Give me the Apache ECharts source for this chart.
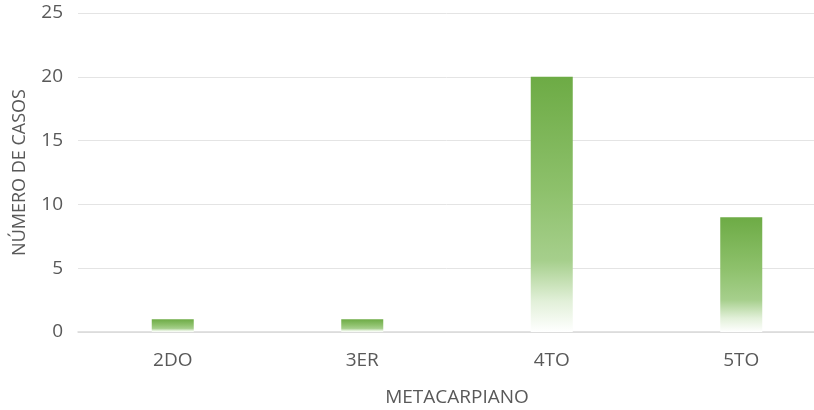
<!DOCTYPE html>
<html>
<head>
<meta charset="utf-8">
<script src="https://cdn.jsdelivr.net/npm/echarts@6/dist/echarts.min.js"></script>
<style>
  html, body { margin: 0; padding: 0; background: #ffffff; }
  #chart { width: 814px; height: 410px; }
</style>
</head>
<body>
<div id="chart"></div>
<script>
// Fracturas por metacarpiano
const categories = ['2DO', '3ER', '4TO', '5TO'];
const casos = [1, 1, 20, 9];
const yTicks = { min: 0, max: 25, interval: 5 };

const chart = echarts.init(document.getElementById('chart'), null, { renderer: 'canvas' });

const barFill = new echarts.graphic.LinearGradient(0, 0, 0, 1, [
  { offset: 0, color: '#6dab45' },
  { offset: 0.45, color: '#8ec16c' },
  { offset: 0.72, color: '#a6cf8c' },
  { offset: 0.88, color: '#e2f0d9' },
  { offset: 1, color: '#ffffff' }
]);

const labelFont = { fontFamily: 'Open Sans', fontSize: 19, color: '#595959' };

chart.setOption({
  backgroundColor: '#ffffff',
  animation: false,
  // the plot runs a little past the right edge of the canvas
  grid: { left: 78, top: 13, width: 758, height: 319, outerBoundsMode: 'none', containLabel: false },
  xAxis: {
    type: 'category',
    data: categories,
    name: 'METACARPIANO',
    nameLocation: 'middle',
    nameGap: 56,
    nameTextStyle: labelFont,
    axisLine: { lineStyle: { color: '#d9d9d9', width: 1.5 } },
    axisTick: { show: false },
    axisLabel: Object.assign({ margin: 19 }, labelFont)
  },
  yAxis: {
    type: 'value',
    min: yTicks.min,
    max: yTicks.max,
    interval: yTicks.interval,
    name: 'NÚMERO DE CASOS',
    nameLocation: 'middle',
    nameGap: 49,
    nameRotate: 90,
    nameTextStyle: Object.assign({}, labelFont, { fontSize: 18 }),
    axisLine: { show: false },
    axisTick: { show: false },
    axisLabel: Object.assign({ margin: 15 }, labelFont),
    splitLine: { lineStyle: { color: '#e4e4e4', width: 1 } }
  },
  series: [{
    type: 'bar',
    data: casos,
    barWidth: 42,
    itemStyle: { color: barFill }
  }]
});
</script>
</body>
</html>
